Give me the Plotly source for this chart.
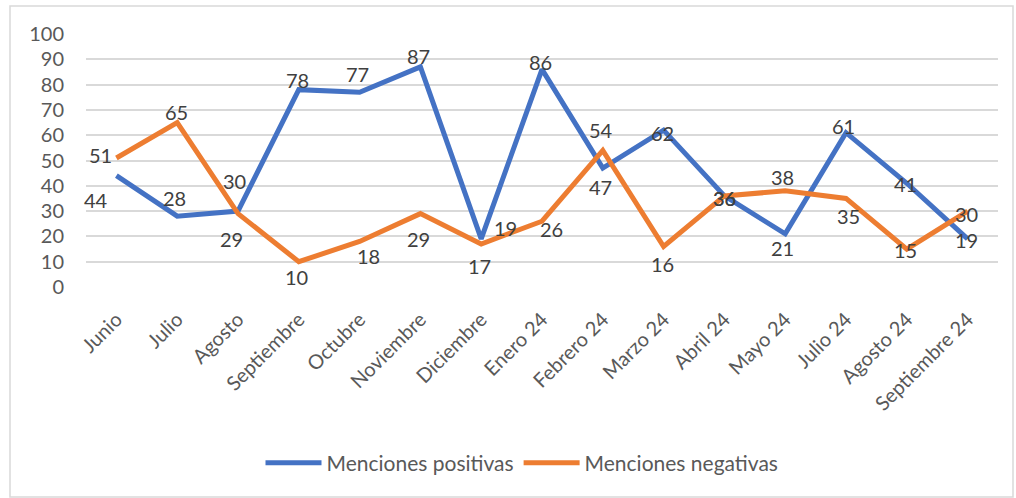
import plotly.graph_objects as go

# Monthly mention counts
meses = ["Junio", "Julio", "Agosto", "Septiembre", "Octubre", "Noviembre", "Diciembre",
         "Enero 24", "Febrero 24", "Marzo 24", "Abril 24", "Mayo 24", "Julio 24",
         "Agosto 24", "Septiembre 24"]
positivas = [44, 28, 30, 78, 77, 87, 19, 86, 47, 62, 36, 21, 61, 41, 19]
negativas = [51, 65, 29, 10, 18, 29, 17, 26, 54, 16, 36, 38, 35, 15, 30]

# Data-label offsets from each point, in pixels (dx right, dy down)
pos_offsets = [(-20, 24), (-3, -18), (-4, -30), (-1, -10), (-2, -18), (-2, -11), (24, -11),
               (-2, -7), (-2, 19), (-1, 3), (0, 2), (-3, 14), (-3, -7), (-1, 1), (-1, 1)]
neg_offsets = [(-16, -3), (-1, -11), (-7, 25), (-2, 15), (9, 15), (-2, 25), (-2, 22),
               (9, 8), (-2, -20), (-1, 17), (0, 2), (-3, -14), (2, 18), (-1, 1), (-1, 3)]

AZUL = "#4472C4"
NARANJA = "#ED7D31"
FONT = "Lato"
LABEL_COLOR = "#404040"
TICK_COLOR = "#595959"

fig = go.Figure()
fig.add_trace(go.Scatter(x=meses, y=positivas, name="Menciones positivas", mode="lines",
                         line=dict(color=AZUL, width=5)))
fig.add_trace(go.Scatter(x=meses, y=negativas, name="Menciones negativas", mode="lines",
                         line=dict(color=NARANJA, width=5)))

annotations = []
for serie, offs in ((positivas, pos_offsets), (negativas, neg_offsets)):
    for mes, val, (dx, dy) in zip(meses, serie, offs):
        annotations.append(dict(x=mes, y=val, xref="x", yref="y", text=str(val),
                                showarrow=False, xshift=dx, yshift=-dy,
                                font=dict(family=FONT, size=20, color=LABEL_COLOR)))

L, R, T, B = 86, 18, 34, 211
W, H = 1016, 498
pw, ph = W - L - R, H - T - B


def px_x(p):
    return (p - L) / pw


def px_y(p):
    return (H - B - p) / ph


fig.update_layout(
    width=W, height=H,
    margin=dict(l=L, r=R, t=T, b=B),
    paper_bgcolor="white", plot_bgcolor="white",
    font=dict(family=FONT, color=TICK_COLOR),
    showlegend=True,
    legend=dict(orientation="h", x=px_x(522), xanchor="center", y=px_y(463), yanchor="middle",
                font=dict(family=FONT, size=21, color=TICK_COLOR), traceorder="normal",
                itemwidth=56),
    xaxis=dict(type="category", range=[-0.5, len(meses) - 0.5], tickangle=-45,
               tickfont=dict(family=FONT, size=20, color=TICK_COLOR), showgrid=False,
               showline=False, ticks="", ticklabelstandoff=16),
    yaxis=dict(range=[0, 100], tickvals=list(range(0, 101, 10)), showgrid=True,
               gridcolor="#d9d9d9", gridwidth=1.5, zeroline=False, showline=False,
               tickfont=dict(family=FONT, size=20, color=TICK_COLOR), ticks="",
               ticklabelstandoff=21),
    annotations=annotations,
    shapes=[dict(type="rect", xref="paper", yref="paper",
                 x0=px_x(10), x1=px_x(1013), y0=px_y(497), y1=px_y(6),
                 line=dict(color="#d9d9d9", width=1.5), layer="below")],
)

fig.write_html("out.html")
